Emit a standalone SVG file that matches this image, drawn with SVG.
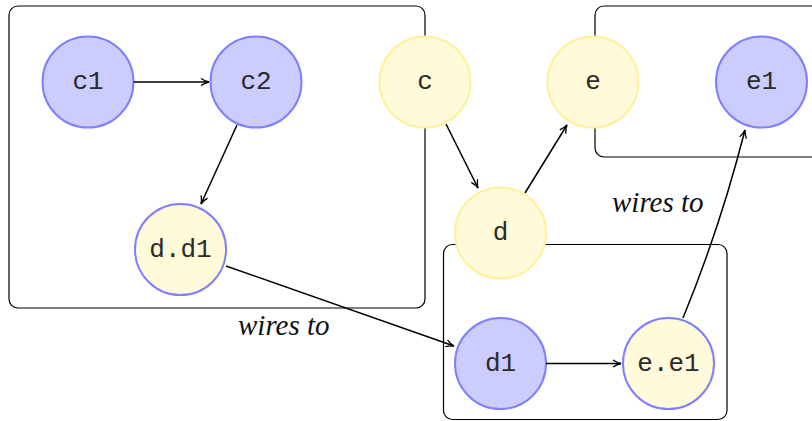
<svg xmlns="http://www.w3.org/2000/svg" width="812" height="421" viewBox="0 0 812 421">
<defs>
<style>
.box{fill:none;stroke:#000;stroke-width:1.2}
.blue{fill:#ccccff;stroke:#7f7fff;stroke-width:2}
.yel{fill:#fffad9;stroke:#fff19a;stroke-width:2}
.mix{fill:#fffad9;stroke:#7f7fff;stroke-width:2}
.lbl{font-family:"Liberation Mono",monospace;font-size:26px;fill:#2a2a2a;text-anchor:middle;dominant-baseline:central}
.wt{font-family:"Liberation Serif",serif;font-style:italic;font-size:29px;fill:#111}
.edge{fill:none;stroke:#000;stroke-width:1.5;marker-end:url(#arr)}
</style>
<marker id="arr" viewBox="0 0 10 10" refX="9" refY="5" markerWidth="10" markerHeight="10" markerUnits="userSpaceOnUse" orient="auto">
<path d="M1,1.5 Q5,4.2 9,5 Q5,5.8 1,8.5" fill="none" stroke="#000" stroke-width="1.3"/>
</marker>
</defs>
<g id="groups">
<rect class="box" x="9" y="6" width="416" height="302" rx="9"/>
<rect class="box" x="595" y="6" width="240" height="151" rx="9"/>
<rect class="box" x="443.5" y="244.5" width="283.5" height="175" rx="9"/>
</g>
<g id="node-c1"><circle class="blue" cx="88" cy="82" r="45.5"/><text class="lbl" x="88" y="82">c1</text></g>
<g id="node-c2"><circle class="blue" cx="256" cy="82" r="45.5"/><text class="lbl" x="256" y="82">c2</text></g>
<g id="node-dd1"><circle class="mix" cx="180.5" cy="249.5" r="45.5"/><text class="lbl" x="180.5" y="249.5">d.d1</text></g>
<g id="node-c"><circle class="yel" cx="425" cy="82" r="45.5"/><text class="lbl" x="425" y="82">c</text></g>
<g id="node-e"><circle class="yel" cx="593" cy="82" r="45.5"/><text class="lbl" x="593" y="82">e</text></g>
<g id="node-e1"><circle class="blue" cx="761.5" cy="82" r="45.5"/><text class="lbl" x="761.5" y="82">e1</text></g>
<g id="node-d"><circle class="yel" cx="500.5" cy="233" r="45.5"/><text class="lbl" x="500.5" y="233">d</text></g>
<g id="node-d1"><circle class="blue" cx="500.5" cy="363.5" r="45.5"/><text class="lbl" x="500.5" y="363.5">d1</text></g>
<g id="node-ee1"><circle class="mix" cx="668.5" cy="363.5" r="45.5"/><text class="lbl" x="668.5" y="363.5">e.e1</text></g>
<g id="connectors">
<line class="edge" x1="133.5" y1="82" x2="209" y2="82"/>
<line class="edge" x1="237" y1="125" x2="201" y2="204"/>
<line class="edge" x1="226" y1="266" x2="454" y2="346"/>
<line class="edge" x1="446" y1="124" x2="478" y2="188"/>
<line class="edge" x1="525" y1="193" x2="567" y2="125"/>
<line class="edge" x1="546" y1="363.5" x2="621" y2="363.5"/>
<path class="edge" d="M683,318 Q720,228 745,130"/>
</g>
<g id="labels">
<text class="wt" x="238" y="335">wires to</text>
<text class="wt" x="612" y="212">wires to</text>
</g>
</svg>
